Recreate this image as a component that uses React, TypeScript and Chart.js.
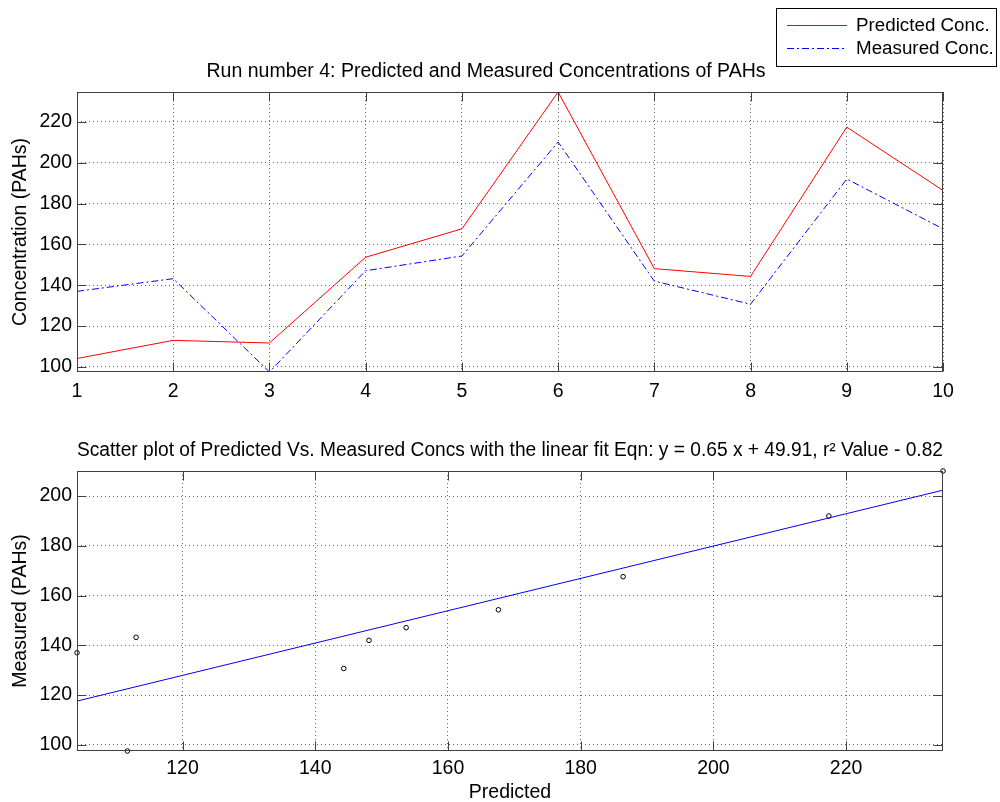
import React, { useEffect, useRef } from "react";
import { Chart, registerables } from "chart.js";

Chart.register(...registerables);

// ---- data ----
const runIndex = [1, 2, 3, 4, 5, 6, 7, 8, 9, 10];
const predictedConc = [104.1, 113.0, 111.7, 153.7, 167.6, 234.6, 148.1, 144.3, 217.4, 186.4];
const measuredConc = [137.0, 143.2, 97.5, 147.1, 154.3, 210.1, 142.0, 130.7, 192.0, 167.6];
const fitSlope = 0.65;
const fitIntercept = 49.91;
const topYTicks = [100, 120, 140, 160, 180, 200, 220];
const scatterXTicks = [120, 140, 160, 180, 200, 220];
const scatterYTicks = [100, 120, 140, 160, 180, 200];
const topTitle = "Run number 4: Predicted and Measured Concentrations of PAHs";
const bottomTitle =
  "Scatter plot of Predicted Vs. Measured Concs with the linear fit Eqn: y = 0.65 x + 49.91, r\u00B2 Value - 0.82";
const seriesLabels = ["Predicted Conc.", "Measured Conc."];
const seriesColors = ["#ff0000", "#0000ff"];

const FONT_FAMILY = '"Liberation Sans", Arial, Helvetica, sans-serif';
const FONT_SIZE = 19.5;
const FONT = { family: FONT_FAMILY, size: FONT_SIZE };
const GRID_COLOR = "rgba(0,0,0,0.6)";
const FRAME_COLOR = "#404040";
const TICK_LEN = 9;
const DASH_DOT = [7, 3, 2, 3];

const framePlugin = {
  id: "matlabFrame",
  afterDatasetsDraw(chart: any) {
    const { ctx, chartArea: a, scales } = chart;
    const L = Math.round(a.left) + 0.5;
    const R = Math.round(a.right) - 0.5;
    const T = Math.round(a.top) + 0.5;
    const B = Math.round(a.bottom) - 0.5;
    ctx.save();
    ctx.strokeStyle = FRAME_COLOR;
    ctx.lineWidth = 1;
    ctx.setLineDash([]);
    ctx.beginPath();
    const xs = scales.x;
    xs.ticks.forEach((t: any) => {
      const px = Math.round(xs.getPixelForValue(t.value)) + 0.5;
      ctx.moveTo(px, B);
      ctx.lineTo(px, B - TICK_LEN);
      ctx.moveTo(px, T);
      ctx.lineTo(px, T + TICK_LEN);
    });
    const ys = scales.y;
    ys.ticks.forEach((t: any) => {
      const py = Math.round(ys.getPixelForValue(t.value)) + 0.5;
      ctx.moveTo(L, py);
      ctx.lineTo(L + TICK_LEN, py);
      ctx.moveTo(R, py);
      ctx.lineTo(R - TICK_LEN, py);
    });
    ctx.stroke();
    ctx.strokeRect(L, T, R - L, B - T);
    ctx.restore();
  },
};

// Legend box + top title (title centred where the reference places it)
const legendPlugin = {
  id: "boxLegend",
  afterDraw(chart: any) {
    const { ctx } = chart;
    const ds = chart.data.datasets;
    ctx.save();
    ctx.fillStyle = "#000";
    ctx.font = `${FONT_SIZE}px ${FONT_FAMILY}`;
    ctx.textBaseline = "middle";
    ctx.textAlign = "center";
    ctx.fillText(topTitle, 486, 71.5);

    ctx.fillStyle = "#fff";
    ctx.fillRect(776.5, 8.5, 220, 58);
    ctx.strokeStyle = "#000";
    ctx.lineWidth = 1;
    ctx.setLineDash([]);
    ctx.strokeRect(776.5, 8.5, 220, 58);
    const rows = [25.5, 48.5];
    ds.forEach((d: any, i: number) => {
      ctx.beginPath();
      ctx.lineWidth = 1;
      ctx.strokeStyle = seriesColors[i];
      ctx.setLineDash(i === 1 ? DASH_DOT : []);
      ctx.moveTo(787, rows[i]);
      ctx.lineTo(847, rows[i]);
      ctx.stroke();
      ctx.setLineDash([]);
      ctx.fillStyle = "#000";
      ctx.font = `18.8px ${FONT_FAMILY}`;
      ctx.textBaseline = "middle";
      ctx.textAlign = "left";
      ctx.fillText(d.label, 856, rows[i]);
    });
    ctx.restore();
  },
};

function baseAxis(extra: any) {
  return {
    type: "linear",
    grid: { color: GRID_COLOR, lineWidth: 1, drawTicks: false },
    border: { display: false, dash: [1, 3] },
    ...extra,
    ticks: { font: FONT, color: "#000", maxRotation: 0, autoSkip: false, ...(extra.ticks || {}) },
  };
}

export default function App() {
  const topRef = useRef<HTMLCanvasElement>(null);
  const botRef = useRef<HTMLCanvasElement>(null);

  useEffect(() => {
    const allConc = [...predictedConc, ...measuredConc];
    const topChart = new Chart(topRef.current as HTMLCanvasElement, {
      type: "line",
      data: {
        datasets: [
          {
            label: seriesLabels[0],
            data: runIndex.map((r, i) => ({ x: r, y: predictedConc[i] })),
            borderColor: seriesColors[0],
            borderWidth: 1,
            pointRadius: 0,
            tension: 0,
          },
          {
            label: seriesLabels[1],
            data: runIndex.map((r, i) => ({ x: r, y: measuredConc[i] })),
            borderColor: seriesColors[1],
            borderWidth: 1,
            borderDash: DASH_DOT,
            pointRadius: 0,
            tension: 0,
          },
        ],
      },
      options: {
        responsive: false,
        animation: false,
        devicePixelRatio: 1,
        layout: { padding: { left: 0, right: 57, top: 92, bottom: 0 } },
        plugins: {
          legend: { display: false },
          tooltip: { enabled: false },
          title: { display: false },
        },
        scales: {
          x: baseAxis({
            min: Math.min(...runIndex),
            max: Math.max(...runIndex),
            afterFit(s: any) {
              s.height = 38;
            },
            afterBuildTicks(s: any) {
              s.ticks = runIndex.map((v) => ({ value: v }));
            },
            ticks: { padding: 7.5 },
          }),
          y: baseAxis({
            min: Math.min(...allConc),
            max: Math.max(...allConc),
            afterFit(s: any) {
              s.width = 77;
            },
            afterBuildTicks(s: any) {
              s.ticks = topYTicks.map((v) => ({ value: v }));
            },
            ticks: { padding: 5 },
            title: {
              display: true,
              text: "Concentration (PAHs)",
              font: FONT,
              color: "#000",
              padding: { top: 9.3, bottom: 0 },
            },
          }),
        },
      } as any,
      plugins: [framePlugin, legendPlugin],
    });

    const xMin = Math.min(...predictedConc);
    const xMax = Math.max(...predictedConc);
    const botChart = new Chart(botRef.current as HTMLCanvasElement, {
      type: "scatter",
      data: {
        datasets: [
          {
            type: "line",
            label: "Linear fit",
            data: [xMin, xMax].map((x) => ({ x, y: fitSlope * x + fitIntercept })),
            borderColor: "#0000ff",
            borderWidth: 1,
            pointRadius: 0,
            tension: 0,
          },
          {
            type: "scatter",
            label: "Measured vs Predicted",
            data: predictedConc.map((p, i) => ({ x: p, y: measuredConc[i] })),
            pointRadius: 2.3,
            pointBorderWidth: 1,
            pointBorderColor: "#000",
            pointBackgroundColor: "rgba(0,0,0,0)",
            showLine: false,
            clip: false,
          },
        ],
      } as any,
      options: {
        responsive: false,
        animation: false,
        devicePixelRatio: 1,
        layout: { padding: { left: 0, right: 57, top: 0, bottom: 0 } },
        plugins: {
          legend: { display: false },
          tooltip: { enabled: false },
          title: {
            display: true,
            fullSize: false,
            text: bottomTitle,
            font: { ...FONT, weight: "normal" },
            color: "#000",
            padding: { top: 29.3, bottom: 8.3 },
          },
        },
        scales: {
          x: baseAxis({
            min: xMin,
            max: xMax,
            afterFit(s: any) {
              s.height = 51;
            },
            afterBuildTicks(s: any) {
              s.ticks = scatterXTicks.map((v) => ({ value: v }));
            },
            ticks: { padding: 5.5 },
            title: {
              display: true,
              text: "Predicted",
              font: FONT,
              color: "#000",
              padding: { top: 0, bottom: -2.5 },
            },
          }),
          y: baseAxis({
            min: Math.min(...measuredConc),
            max: Math.max(...measuredConc),
            afterFit(s: any) {
              s.width = 77;
            },
            afterBuildTicks(s: any) {
              s.ticks = scatterYTicks.map((v) => ({ value: v }));
            },
            ticks: { padding: 5 },
            title: {
              display: true,
              text: "Measured (PAHs)",
              font: FONT,
              color: "#000",
              padding: { top: 9.3, bottom: 0 },
            },
          }),
        },
      } as any,
      plugins: [framePlugin],
    });

    return () => {
      topChart.destroy();
      botChart.destroy();
    };
  }, []);

  return (
    <div
      style={{
        position: "absolute",
        left: 0,
        top: 0,
        width: 1000,
        height: 802,
        background: "#fff",
        overflow: "hidden",
      }}
    >
      <canvas
        ref={topRef}
        width={1000}
        height={410}
        style={{ position: "absolute", left: 0, top: 0, display: "block" }}
      />
      <canvas
        ref={botRef}
        width={1000}
        height={392}
        style={{ position: "absolute", left: 0, top: 410, display: "block" }}
      />
    </div>
  );
}
